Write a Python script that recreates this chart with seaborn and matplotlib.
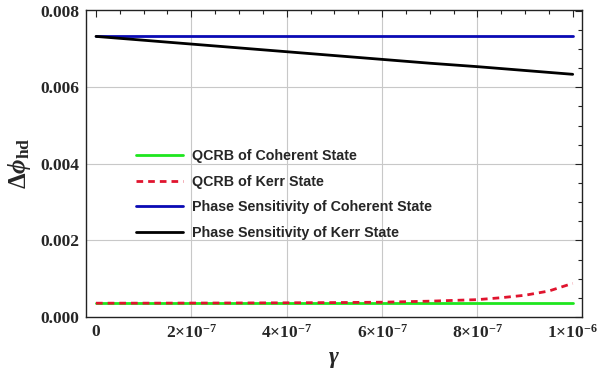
import matplotlib
matplotlib.use('Agg')  # Headless
import matplotlib.pyplot as plt
from matplotlib.ticker import FixedLocator, MultipleLocator, FuncFormatter
import seaborn as sns
import pandas as pd

sns.set_style("white")
plt.rcParams['font.family'] = ['Liberation Serif', 'DejaVu Serif']
plt.rcParams['mathtext.fontset'] = 'custom'
plt.rcParams['mathtext.rm'] = 'Liberation Serif:bold'
plt.rcParams['mathtext.bf'] = 'Liberation Serif:bold'
plt.rcParams['mathtext.it'] = 'Liberation Serif:italic:bold'

# gamma values (x axis) and the four curves
gamma = [0, 1e-7, 2e-7, 3e-7, 4e-7, 5e-7, 6e-7, 7e-7, 8e-7, 8.5e-7, 9e-7, 9.5e-7, 1e-6]
qcrb_coherent = [0.000362] * len(gamma)
qcrb_kerr = [0.000362, 0.000363, 0.000365, 0.000368, 0.000372, 0.000378, 0.000388,
             0.000415, 0.000455, 0.000505, 0.00057, 0.00068, 0.00088]
ps_coherent = [0.00733] * len(gamma)
ps_kerr = [0.00733, 0.00723, 0.00713, 0.00703, 0.00693, 0.00683, 0.00673,
           0.00663, 0.00654, 0.00649, 0.00644, 0.00639, 0.00634]

labels = ['QCRB of Coherent State', 'QCRB of Kerr State',
          'Phase Sensitivity of Coherent State', 'Phase Sensitivity of Kerr State']
x_ticks = [0, 2e-7, 4e-7, 6e-7, 8e-7, 1e-6]
x_tick_labels = ['0', '2×10$^{-7}$', '4×10$^{-7}$', '6×10$^{-7}$', '8×10$^{-7}$', '1×10$^{-6}$']

df = pd.DataFrame({'gamma': gamma, labels[0]: qcrb_coherent, labels[1]: qcrb_kerr,
                   labels[2]: ps_coherent, labels[3]: ps_kerr})

fig = plt.figure(figsize=(6.0, 3.77), dpi=100)
ax = fig.add_axes([0.1433, 0.159, 0.8267, 0.8145])

styles = [('#1ee61e', '-'), ('#e0142e', (0, (2.4, 1.8))), ('#0a0ab4', '-'), ('#000000', '-')]
for lab, (col, ls) in zip(labels, styles):
    sns.lineplot(data=df, x='gamma', y=lab, ax=ax, color=col, linestyle=ls,
                 linewidth=2.0, label=lab)

ax.set_xlim(-2.1e-8, 1.0195e-6)
ax.set_ylim(0, 0.00802)

ax.xaxis.set_major_locator(FixedLocator(x_ticks))
ax.set_xticklabels(x_tick_labels)
ax.xaxis.set_minor_locator(MultipleLocator(5e-8))
ax.yaxis.set_major_locator(MultipleLocator(0.002))
ax.yaxis.set_minor_locator(MultipleLocator(0.0005))
ax.yaxis.set_major_formatter(FuncFormatter(lambda v, p: f'{v:.3f}'))

ax.tick_params(which='both', direction='in', top=True, right=True, width=0.8, color='#222222')
ax.tick_params(which='major', length=5, labelsize=12.5, pad=5)
ax.tick_params(which='minor', length=3)
for t in ax.get_xticklabels() + ax.get_yticklabels():
    t.set_fontweight('bold')

# grid only on interior major ticks
ax.grid(True, which='major', color='#c8c8c8', linewidth=0.8)
for gl, v in zip(ax.get_xgridlines(), x_ticks):
    if v in (0, 1e-6):
        gl.set_visible(False)
for gl in ax.get_ygridlines():
    if gl.get_ydata()[0] in (0, 0.008):
        gl.set_visible(False)

for s in ax.spines.values():
    s.set_color('#222222')
    s.set_linewidth(1.0)

ax.set_xlabel(r'$\gamma$', fontsize=17, labelpad=5)
ax.set_ylabel(r'$\Delta\phi_{\mathbf{hd}}$', fontsize=18, labelpad=5)

leg = ax.legend(loc='upper left', bbox_to_anchor=(0.087, 0.569), frameon=False,
                handlelength=3.3, handletextpad=0.6, labelspacing=0.8, borderpad=0,
                prop={'family': 'Liberation Sans', 'weight': 'bold', 'size': 10.25})

fig.savefig('out.png', dpi=100)
plt.close(fig)
